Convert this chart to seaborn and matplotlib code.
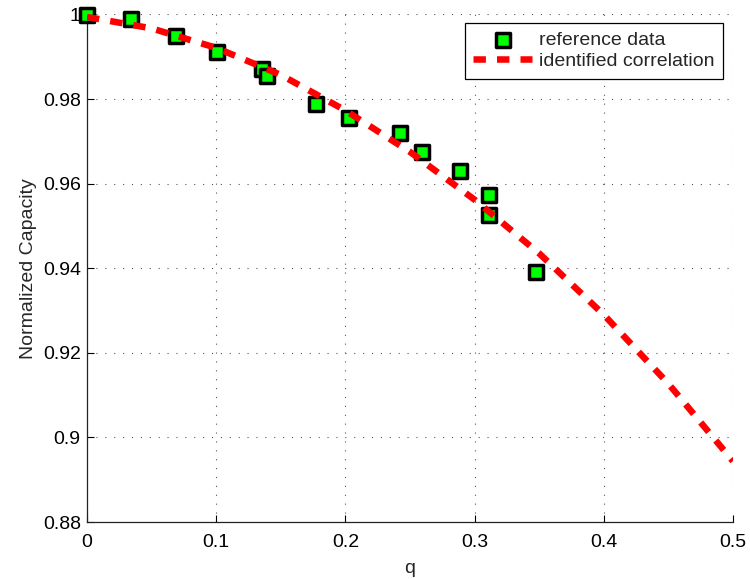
import matplotlib
matplotlib.use("Agg")
import matplotlib.pyplot as plt
import seaborn as sns
import pandas as pd

# Reference data
ref_q = [0.000, 0.034, 0.069, 0.1006, 0.1354, 0.139, 0.177, 0.2028, 0.2423, 0.2593, 0.2887, 0.311, 0.311, 0.3475]
ref_cap = [0.9999, 0.9989, 0.9949, 0.9911, 0.9871, 0.9854, 0.9788, 0.9755, 0.9720, 0.9675, 0.9630, 0.9573, 0.9526, 0.9391]

# Identified correlation curve
corr_q = [0.0, 0.05, 0.1, 0.15, 0.2, 0.25, 0.3, 0.35, 0.4, 0.45, 0.5]
corr_cap = [0.9994, 0.9967, 0.9921, 0.9857, 0.9773, 0.9675, 0.9562, 0.9435, 0.9290, 0.9127, 0.8944]

x_ticks = [0, 0.1, 0.2, 0.3, 0.4, 0.5]
x_ticklabels = ["0", "0.1", "0.2", "0.3", "0.4", "0.5"]
y_ticks = [0.88, 0.9, 0.92, 0.94, 0.96, 0.98, 1.0]
y_ticklabels = ["0.88", "0.9", "0.92", "0.94", "0.96", "0.98", "1"]

sns.set_style("white")
plt.rcParams["font.family"] = ["Liberation Sans", "DejaVu Sans"]

FS = 14

fig = plt.figure(figsize=(7.5, 5.79), dpi=100)
ax = fig.add_axes([0.116, 0.0984, 0.8613, 0.8767])

ref_df = pd.DataFrame({"q": ref_q, "cap": ref_cap})
corr_df = pd.DataFrame({"q": corr_q, "cap": corr_cap})

sns.scatterplot(data=ref_df, x="q", y="cap", ax=ax, marker="s", s=10.4 ** 2,
                color="#00ff00", edgecolor="black", linewidth=2.5,
                label="reference data", zorder=3, clip_on=False)
sns.lineplot(data=corr_df, x="q", y="cap", ax=ax, color="#ff0000", lw=4.7,
             linestyle=(0, (1.9, 1.7)), label="identified correlation", zorder=4)

ax.set_xlim(0, 0.5)
ax.set_ylim(0.88, 1.0)
ax.set_xticks(x_ticks)
ax.set_xticklabels(x_ticklabels)
ax.set_yticks(y_ticks)
ax.set_yticklabels(y_ticklabels)
ax.tick_params(direction="in", length=5, width=0.8, labelsize=FS, colors="black",
               left=True, bottom=True)
ax.tick_params(axis="y", pad=4.5)
ax.tick_params(axis="x", pad=8.3)
ax.grid(True, linestyle=(0, (1, 7)), color="#555555", linewidth=0.8)
for s in ["top", "right"]:
    ax.spines[s].set_visible(False)
for s in ["left", "bottom"]:
    ax.spines[s].set_color("#222222")
    ax.spines[s].set_linewidth(0.9)
    ax.spines[s].set_zorder(2.5)

ax.set_xlabel("q", fontsize=FS, labelpad=6.5)
ax.set_ylabel("Normalized Capacity", fontsize=FS, labelpad=4)

handles, labels = ax.get_legend_handles_labels()
order = [labels.index("reference data"), labels.index("identified correlation")]
leg = ax.legend([handles[i] for i in order], [labels[i] for i in order],
                loc="upper right", bbox_to_anchor=(0.9845, 0.983), borderaxespad=0,
                fontsize=FS, frameon=True, fancybox=False, framealpha=1,
                edgecolor="black", handlelength=3.0, handletextpad=0.36,
                borderpad=0.45, labelspacing=0.15)
leg.get_frame().set_linewidth(0.9)

fig.savefig("out.png", dpi=100)
